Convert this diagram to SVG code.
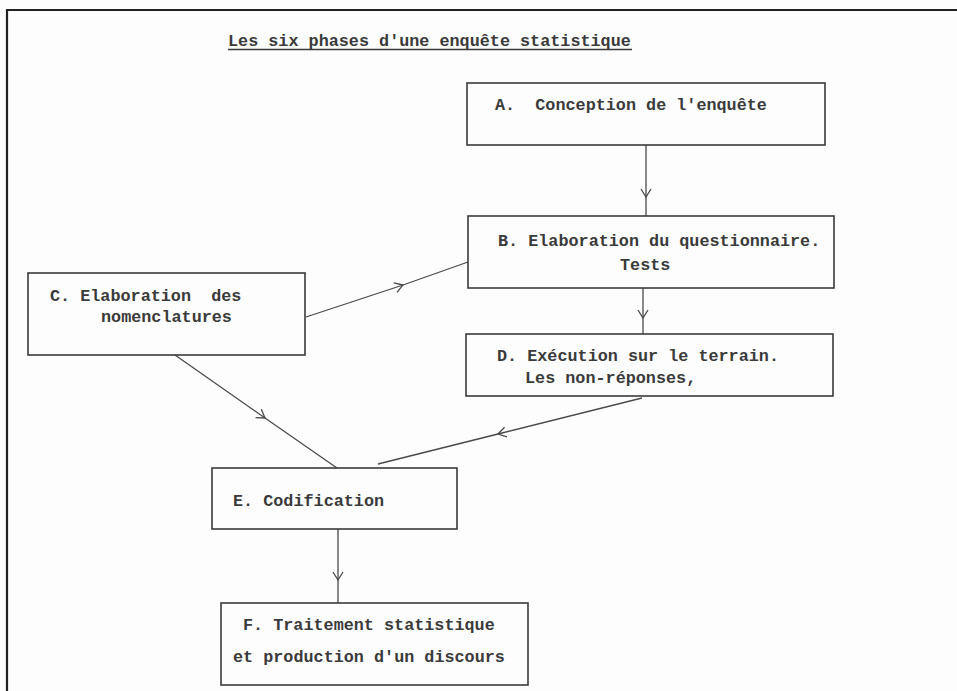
<svg xmlns="http://www.w3.org/2000/svg" width="957" height="691" viewBox="0 0 957 691">
  <style>
    .t { font-family: "Liberation Mono", "Courier New", monospace; font-size: 16.8px; font-weight: bold; fill: #3a3a3a; white-space: pre; }
    .box { fill: none; stroke: #3a3a3a; stroke-width: 1.6; }
    .conn { fill: none; stroke: #4a4a4a; stroke-width: 1.3; marker-mid: url(#v); }
    .frame { fill: none; stroke: #222; stroke-width: 2.2; }
  </style>
  <defs>
    <marker id="v" markerUnits="userSpaceOnUse" markerWidth="20" markerHeight="20" refX="0" refY="0" viewBox="-10 -10 20 20" orient="auto" overflow="visible">
      <path d="M -8 -5 L 0 0 L -8 5" fill="none" stroke="#4a4a4a" stroke-width="1.3"/>
    </marker>
  </defs>
  <rect x="0" y="0" width="957" height="691" fill="#fdfdfd"/>
  <path class="frame" d="M 7 691 L 7 10 L 957 10"/>

  <g id="title">
    <text class="t" x="228" y="46">Les six phases d'une enquête statistique</text>
    <line x1="228" y1="49.5" x2="632" y2="49.5" stroke="#3a3a3a" stroke-width="1.4"/>
  </g>

  <g id="connectors">
    <path class="conn" d="M 646 145 L 646 197 L 646 216"/>
    <path class="conn" d="M 643 288 L 643 318 L 643 334"/>
    <path class="conn" d="M 306 317 L 403 285 L 468 262"/>
    <path class="conn" d="M 175 355 L 265 418 L 337 468"/>
    <path class="conn" d="M 642 398 L 498 434 L 378 464"/>
    <path class="conn" d="M 338 529 L 338 580 L 338 603"/>
  </g>

  <g id="nodeA">
    <rect class="box" x="467" y="83" width="358" height="62"/>
    <text class="t" x="495" y="110">A.  Conception de l'enquête</text>
  </g>
  <g id="nodeB">
    <rect class="box" x="468" y="216" width="366" height="72"/>
    <text class="t" x="498" y="246">B. Elaboration du questionnaire.</text>
    <text class="t" x="620" y="270">Tests</text>
  </g>
  <g id="nodeC">
    <rect class="box" x="28" y="273" width="277" height="82"/>
    <text class="t" x="50" y="301">C. Elaboration  des</text>
    <text class="t" x="101" y="322">nomenclatures</text>
  </g>
  <g id="nodeD">
    <rect class="box" x="466" y="334" width="367" height="62"/>
    <text class="t" x="497" y="361">D. Exécution sur le terrain.</text>
    <text class="t" x="525" y="383">Les non-réponses,</text>
  </g>
  <g id="nodeE">
    <rect class="box" x="212" y="468" width="245" height="61"/>
    <text class="t" x="233" y="506">E. Codification</text>
  </g>
  <g id="nodeF">
    <rect class="box" x="221" y="603" width="307" height="82"/>
    <text class="t" x="243" y="630">F. Traitement statistique</text>
    <text class="t" x="233" y="662">et production d'un discours</text>
  </g>
</svg>
